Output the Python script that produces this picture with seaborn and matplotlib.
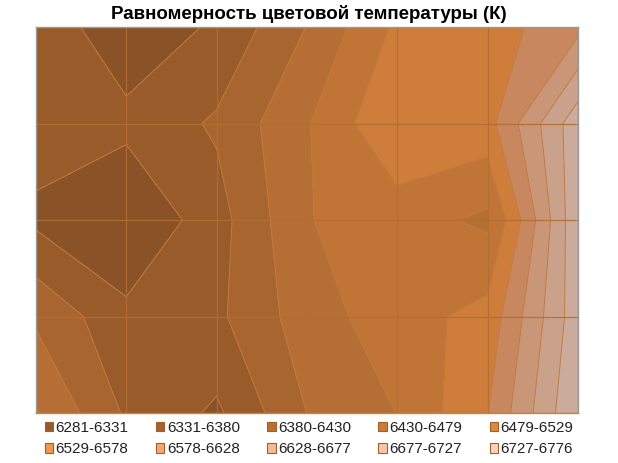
import numpy as np
import matplotlib
matplotlib.use('Agg')
import matplotlib.pyplot as plt
from matplotlib.patches import Patch
import seaborn as sns

# grid of measured colour temperatures (K), rows top -> bottom, columns left -> right
row_1 = [6364, 6296, 6338, 6431, 6538, 6554, 6613]
row_2 = [6355, 6344, 6387, 6475, 6576, 6560, 6760]
row_3 = [6320, 6282, 6360, 6477, 6502, 6468, 6768]
row_4 = [6421, 6343, 6370, 6455, 6507, 6546, 6758]
row_5 = [6483, 6373, 6322, 6430, 6480, 6577, 6776]

band_labels = ['6281-6331', '6331-6380', '6380-6430', '6430-6479', '6479-6529',
               '6529-6578', '6578-6628', '6628-6677', '6677-6727', '6727-6776']
t_min, t_max = 6281, 6776

title = 'Равномерность цветовой температуры (К)'

# colours seen inside the plot (shaded) and in the legend
fill_colors = ['#895227', '#995B2A', '#A8652F', '#B56E34', '#C07537',
               '#CE7D3B', '#C8875E', '#C99678', '#CAA28B', '#CBAC9C']
legend_colors = ['#96592B', '#A7632D', '#B86F33', '#CB7B3A', '#E08A41',
                 '#F2984B', '#F5A873', '#F7B893', '#F7C6AA', '#F8D2BF']

sns.set_theme(style='white')
plt.rcParams['font.family'] = ['Liberation Sans', 'DejaVu Sans']

temps = np.array([row_1, row_2, row_3, row_4, row_5])
n_rows, n_cols = temps.shape
x = np.arange(n_cols)
y = np.arange(n_rows)
levels = np.linspace(t_min, t_max, len(band_labels) + 1)

fig = plt.figure(figsize=(6.18, 4.63), dpi=100)
ax = fig.add_axes([36 / 618, 1 - 413 / 463, 542 / 618, 386 / 463])

ax.contourf(x, y, temps, levels=levels, colors=fill_colors)
ax.contour(x, y, temps, levels=levels[1:-1], colors='#C27A3C', linewidths=0.7)

# major gridlines at every data point
for xi in x:
    ax.axvline(xi, color='#B36E30', lw=0.9, alpha=0.9)
for yi in y:
    ax.axhline(yi, color='#B36E30', lw=0.9, alpha=0.9)

ax.set_xlim(0, n_cols - 1)
ax.set_ylim(n_rows - 1, 0)
ax.set_xticks([])
ax.set_yticks([])
for side in ['left', 'top', 'right']:
    ax.spines[side].set_color('#9A9A9A')
    ax.spines[side].set_linewidth(1)
ax.spines['bottom'].set_color('#C98445')
ax.spines['bottom'].set_linewidth(1)

fig.text(0.5, 1 - 14 / 463, title, ha='center', va='center',
         fontsize=13.5, fontweight='bold', color='#000000')

handles = [Patch(facecolor=c, edgecolor='#A0602A', linewidth=0.8) for c in legend_colors]
# legend fills column by column, reorder so rows read left to right
order = [0, 5, 1, 6, 2, 7, 3, 8, 4, 9]
fig.legend([handles[i] for i in order], [band_labels[i] for i in order],
           loc='center', bbox_to_anchor=(0.5, 1 - 438.5 / 463), ncol=5,
           frameon=False, fontsize=11, handlelength=0.55, handleheight=0.55,
           handletextpad=0.15, columnspacing=1.8, labelspacing=0.5,
           labelcolor='#222222')

fig.savefig('out.png', dpi=100)
